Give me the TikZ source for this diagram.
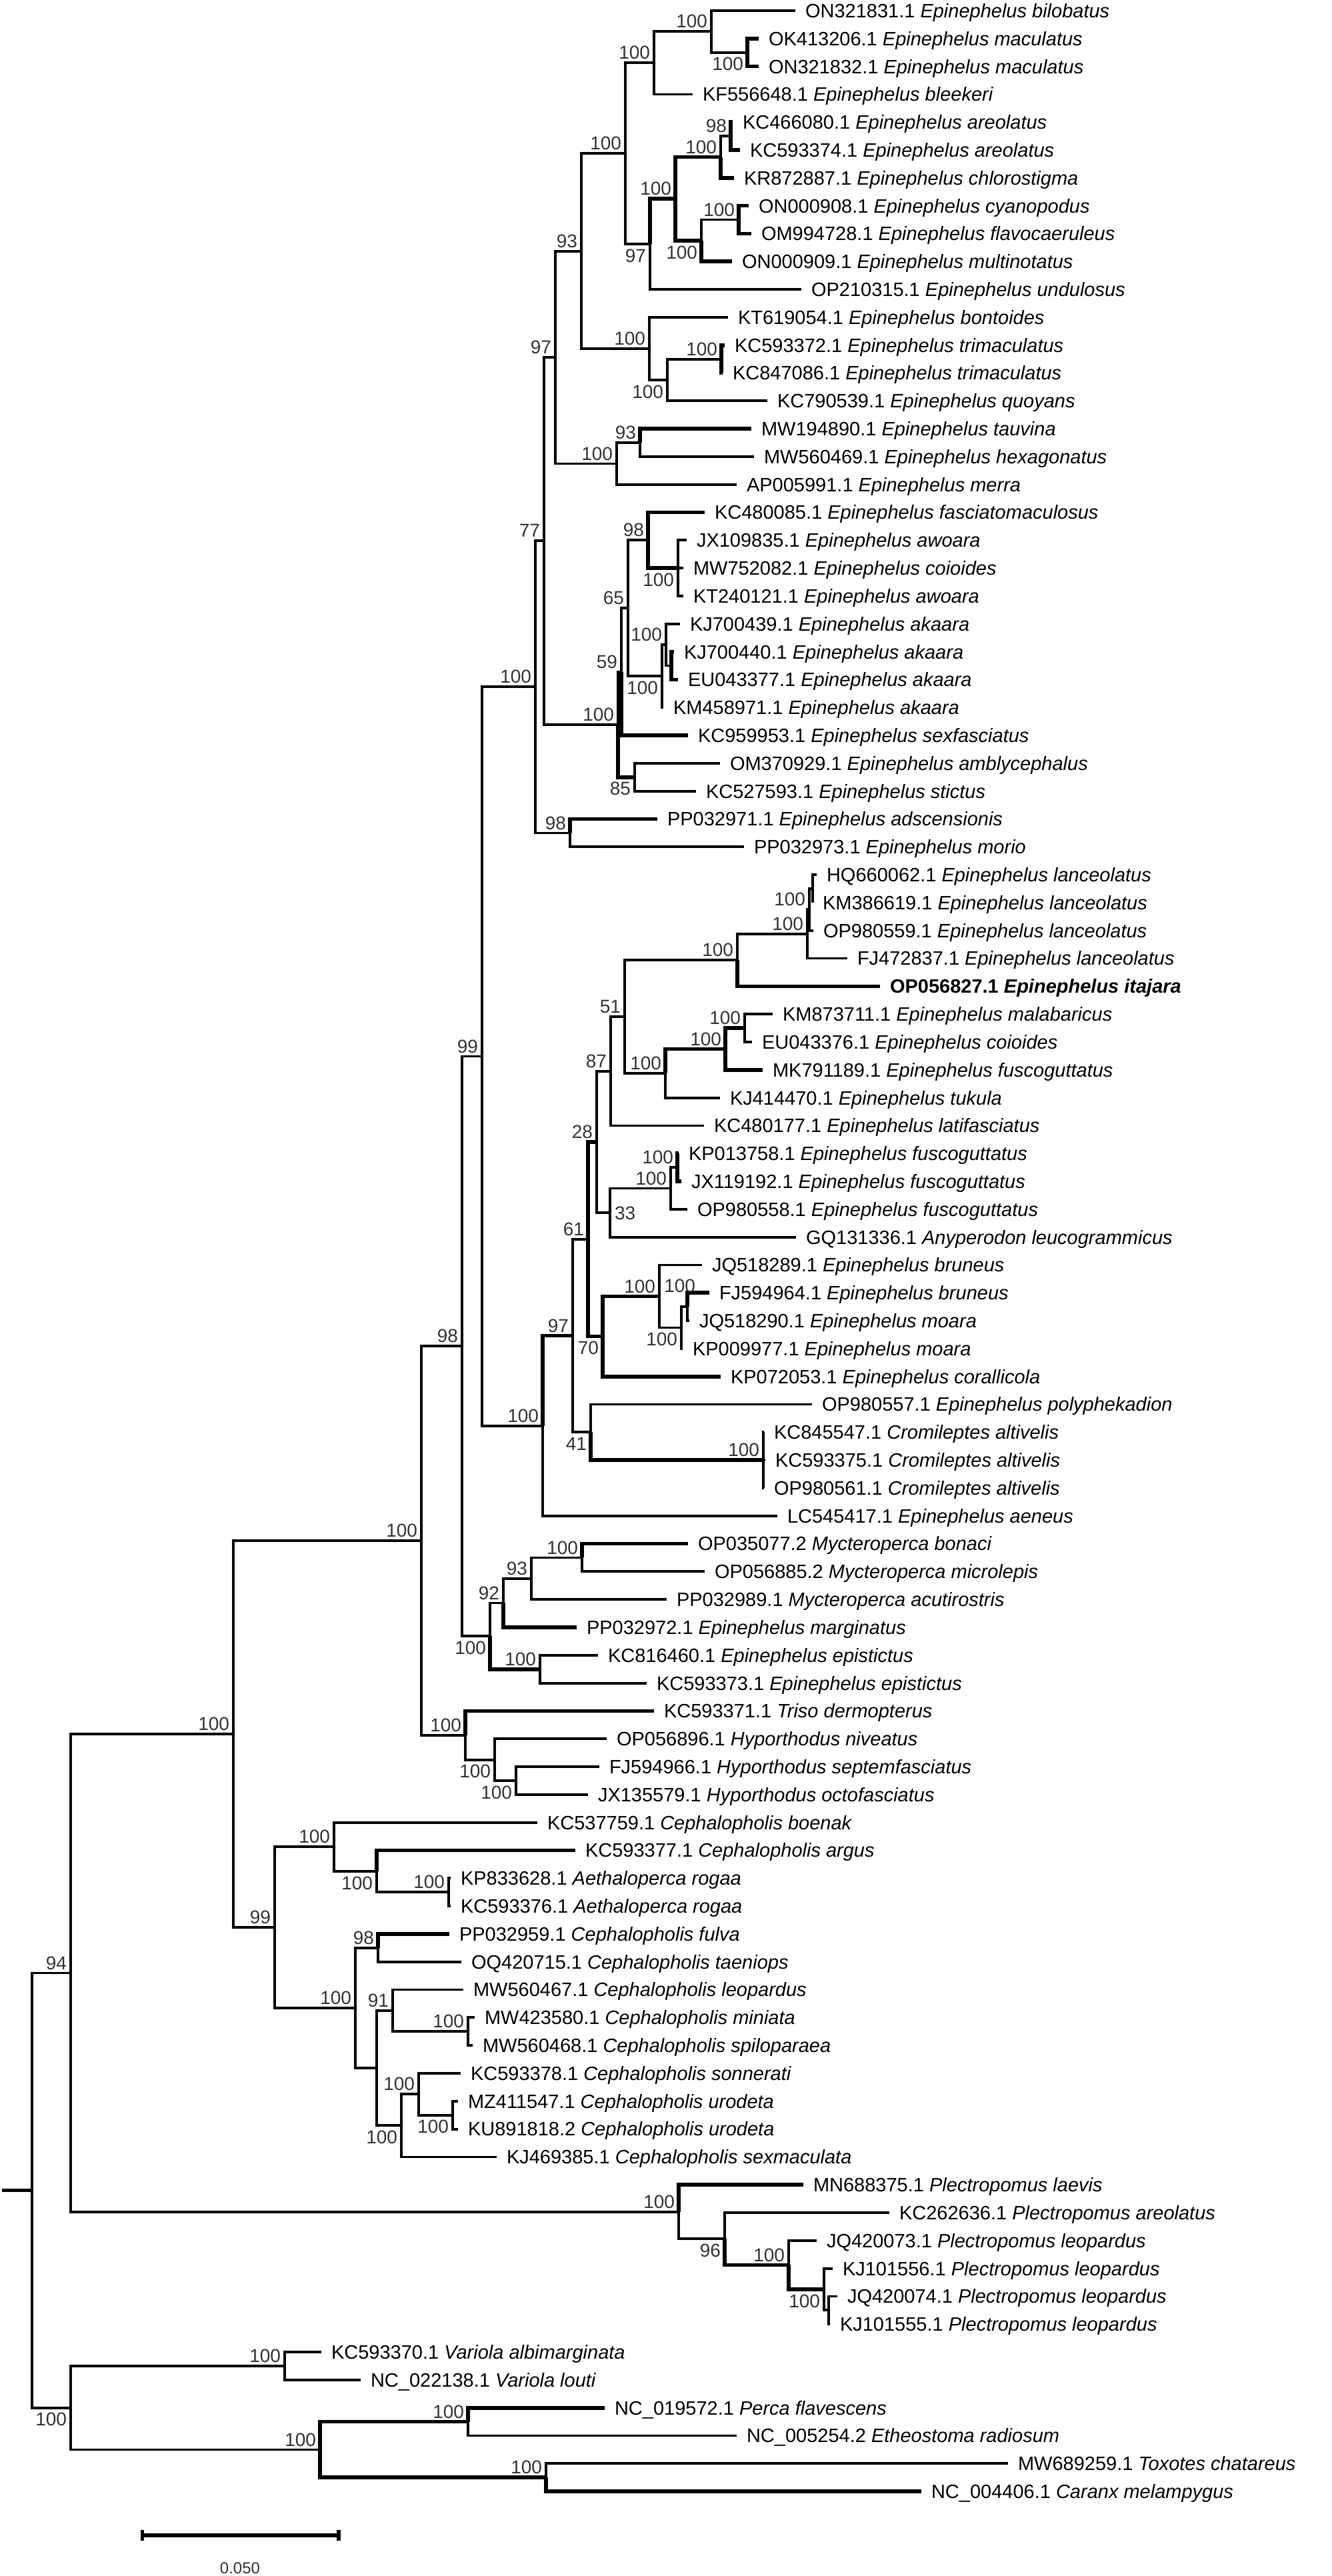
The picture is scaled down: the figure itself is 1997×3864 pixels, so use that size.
\documentclass[tikz,border=0pt]{standalone}
\usepackage{fontspec}
\setmainfont{Liberation Sans}
\usetikzlibrary{calc}

\tikzset{
  branch/.style={line width=1.9pt},
  fat/.style={line width=2.8pt},
  leaf/.style={anchor=west, inner xsep=7.5pt, inner ysep=0pt, outer sep=0pt,
    text height=10.4pt, text depth=0pt, font=\fontsize{14.5}{16}\selectfont},
  bsa/.style={anchor=south east, inner sep=0pt, outer sep=0pt, xshift=-3pt, yshift=2.7pt,
    text height=10pt, text depth=0pt, font=\fontsize{14}{16}\selectfont, text=black!80},
  bsb/.style={anchor=north east, inner sep=0pt, outer sep=0pt, xshift=-3pt, yshift=-3.6pt,
    text height=10pt, text depth=0pt, font=\fontsize{14}{16}\selectfont, text=black!80},
  bsr/.style={anchor=west, inner sep=0pt, outer sep=0pt, xshift=3.5pt,
    text height=10pt, text depth=0pt, font=\fontsize{14}{16}\selectfont, text=black!80},
}

% rows of the tips, in px from the top
\newcommand{\row}[1]{16+41.81*(#1-1)}
% tip: row, x of the branch end, label
\newcommand{\tip}[3]{\node[leaf] (l#1) at (#2,{\row{#1}}) {#3};}
% inner node: name, x, upper child, lower child
\newcommand{\clade}[4]{%
  \coordinate (#1m) at ($(#3)!.5!(#4)$);
  \coordinate (#1) at (#2,0 |- #1m);
  \draw[branch] (#3) -| (#1) |- (#4);}
\newcommand{\bs}[3]{\node[#1] at (#2) {#3};}

\begin{document}
\begin{tikzpicture}[x=0.5pt,y=-0.5pt]
\useasboundingbox[fill=white] (0,0) rectangle (1997,3864);

% tips
\tip{1}{1193}{ON321831.1 \textit{Epinephelus bilobatus}}
\tip{2}{1138}{OK413206.1 \textit{Epinephelus maculatus}}
\tip{3}{1138}{ON321832.1 \textit{Epinephelus maculatus}}
\tip{4}{1039}{KF556648.1 \textit{Epinephelus bleekeri}}
\tip{5}{1099}{KC466080.1 \textit{Epinephelus areolatus}}
\tip{6}{1110}{KC593374.1 \textit{Epinephelus areolatus}}
\tip{7}{1101}{KR872887.1 \textit{Epinephelus chlorostigma}}
\tip{8}{1123}{ON000908.1 \textit{Epinephelus cyanopodus}}
\tip{9}{1127}{OM994728.1 \textit{Epinephelus flavocaeruleus}}
\tip{10}{1098}{ON000909.1 \textit{Epinephelus multinotatus}}
\tip{11}{1202}{OP210315.1 \textit{Epinephelus undulosus}}
\tip{12}{1092}{KT619054.1 \textit{Epinephelus bontoides}}
\tip{13}{1087}{KC593372.1 \textit{Epinephelus trimaculatus}}
\tip{14}{1084}{KC847086.1 \textit{Epinephelus trimaculatus}}
\tip{15}{1151}{KC790539.1 \textit{Epinephelus quoyans}}
\tip{16}{1127}{MW194890.1 \textit{Epinephelus tauvina}}
\tip{17}{1131}{MW560469.1 \textit{Epinephelus hexagonatus}}
\tip{18}{1105}{AP005991.1 \textit{Epinephelus merra}}
\tip{19}{1057}{KC480085.1 \textit{Epinephelus fasciatomaculosus}}
\tip{20}{1030}{JX109835.1 \textit{Epinephelus awoara}}
\tip{21}{1025}{MW752082.1 \textit{Epinephelus coioides}}
\tip{22}{1025}{KT240121.1 \textit{Epinephelus awoara}}
\tip{23}{1020}{KJ700439.1 \textit{Epinephelus akaara}}
\tip{24}{1011}{KJ700440.1 \textit{Epinephelus akaara}}
\tip{25}{1017}{EU043377.1 \textit{Epinephelus akaara}}
\tip{26}{995}{KM458971.1 \textit{Epinephelus akaara}}
\tip{27}{1032}{KC959953.1 \textit{Epinephelus sexfasciatus}}
\tip{28}{1080}{OM370929.1 \textit{Epinephelus amblycephalus}}
\tip{29}{1044}{KC527593.1 \textit{Epinephelus stictus}}
\tip{30}{986}{PP032971.1 \textit{Epinephelus adscensionis}}
\tip{31}{1116}{PP032973.1 \textit{Epinephelus morio}}
\tip{32}{1225}{HQ660062.1 \textit{Epinephelus lanceolatus}}
\tip{33}{1219}{KM386619.1 \textit{Epinephelus lanceolatus}}
\tip{34}{1220}{OP980559.1 \textit{Epinephelus lanceolatus}}
\tip{35}{1271}{FJ472837.1 \textit{Epinephelus lanceolatus}}
\tip{36}{1320}{\bfseries OP056827.1 \textit{Epinephelus itajara}}
\tip{37}{1159}{KM873711.1 \textit{Epinephelus malabaricus}}
\tip{38}{1128}{EU043376.1 \textit{Epinephelus coioides}}
\tip{39}{1144}{MK791189.1 \textit{Epinephelus fuscoguttatus}}
\tip{40}{1080}{KJ414470.1 \textit{Epinephelus tukula}}
\tip{41}{1056}{KC480177.1 \textit{Epinephelus latifasciatus}}
\tip{42}{1018}{KP013758.1 \textit{Epinephelus fuscoguttatus}}
\tip{43}{1022}{JX119192.1 \textit{Epinephelus fuscoguttatus}}
\tip{44}{1031}{OP980558.1 \textit{Epinephelus fuscoguttatus}}
\tip{45}{1194}{GQ131336.1 \textit{Anyperodon leucogrammicus}}
\tip{46}{1053}{JQ518289.1 \textit{Epinephelus bruneus}}
\tip{47}{1064}{FJ594964.1 \textit{Epinephelus bruneus}}
\tip{48}{1034}{JQ518290.1 \textit{Epinephelus moara}}
\tip{49}{1024}{KP009977.1 \textit{Epinephelus moara}}
\tip{50}{1081}{KP072053.1 \textit{Epinephelus corallicola}}
\tip{51}{1218}{OP980557.1 \textit{Epinephelus polyphekadion}}
\tip{52}{1146}{KC845547.1 \textit{Cromileptes altivelis}}
\tip{53}{1148}{KC593375.1 \textit{Cromileptes altivelis}}
\tip{54}{1146}{OP980561.1 \textit{Cromileptes altivelis}}
\tip{55}{1166}{LC545417.1 \textit{Epinephelus aeneus}}
\tip{56}{1032}{OP035077.2 \textit{Mycteroperca bonaci}}
\tip{57}{1057}{OP056885.2 \textit{Mycteroperca microlepis}}
\tip{58}{1000}{PP032989.1 \textit{Mycteroperca acutirostris}}
\tip{59}{865}{PP032972.1 \textit{Epinephelus marginatus}}
\tip{60}{897}{KC816460.1 \textit{Epinephelus epistictus}}
\tip{61}{970}{KC593373.1 \textit{Epinephelus epistictus}}
\tip{62}{981}{KC593371.1 \textit{Triso dermopterus}}
\tip{63}{910}{OP056896.1 \textit{Hyporthodus niveatus}}
\tip{64}{899}{FJ594966.1 \textit{Hyporthodus septemfasciatus}}
\tip{65}{882}{JX135579.1 \textit{Hyporthodus octofasciatus}}
\tip{66}{806}{KC537759.1 \textit{Cephalopholis boenak}}
\tip{67}{863}{KC593377.1 \textit{Cephalopholis argus}}
\tip{68}{676}{KP833628.1 \textit{Aethaloperca rogaa}}
\tip{69}{676}{KC593376.1 \textit{Aethaloperca rogaa}}
\tip{70}{674}{PP032959.1 \textit{Cephalopholis fulva}}
\tip{71}{692}{OQ420715.1 \textit{Cephalopholis taeniops}}
\tip{72}{695}{MW560467.1 \textit{Cephalopholis leopardus}}
\tip{73}{712}{MW423580.1 \textit{Cephalopholis miniata}}
\tip{74}{709}{MW560468.1 \textit{Cephalopholis spiloparaea}}
\tip{75}{691}{KC593378.1 \textit{Cephalopholis sonnerati}}
\tip{76}{687}{MZ411547.1 \textit{Cephalopholis urodeta}}
\tip{77}{687}{KU891818.2 \textit{Cephalopholis urodeta}}
\tip{78}{745}{KJ469385.1 \textit{Cephalopholis sexmaculata}}
\tip{79}{1205}{MN688375.1 \textit{Plectropomus laevis}}
\tip{80}{1334}{KC262636.1 \textit{Plectropomus areolatus}}
\tip{81}{1225}{JQ420073.1 \textit{Plectropomus leopardus}}
\tip{82}{1249}{KJ101556.1 \textit{Plectropomus leopardus}}
\tip{83}{1256}{JQ420074.1 \textit{Plectropomus leopardus}}
\tip{84}{1245}{KJ101555.1 \textit{Plectropomus leopardus}}
\tip{85}{482}{KC593370.1 \textit{Variola albimarginata}}
\tip{86}{541}{NC\_022138.1 \textit{Variola louti}}
\tip{87}{907}{NC\_019572.1 \textit{Perca flavescens}}
\tip{88}{1105}{NC\_005254.2 \textit{Etheostoma radiosum}}
\tip{89}{1512}{MW689259.1 \textit{Toxotes chatareus}}
\tip{90}{1382}{NC\_004406.1 \textit{Caranx melampygus}}

% Epinephelus, upper part
\clade{mac}{1121}{l2}{l3}
\clade{A1}{1067}{l1}{mac}
\clade{A2}{981}{A1}{l4}
\clade{areo}{1096}{l5}{l6}
\clade{B1a}{1081}{areo}{l7}
\clade{cyan}{1108}{l8}{l9}
\clade{B1b}{1052}{cyan}{l10}
\clade{B1}{1013}{B1a}{B1b}
\clade{B}{975}{B1}{l11}
\clade{A3}{938}{A2}{B}
\clade{trim}{1082}{l13}{l14}
\clade{D1}{1001}{trim}{l15}
\clade{D}{974}{l12}{D1}
\clade{C}{872}{A3}{D}
\clade{F1}{960}{l16}{l17}
\clade{F}{925}{F1}{l18}
\clade{E}{833}{C}{F}
\clade{I1}{1017}{l20}{l22}
\draw[branch] (l21) -| (I1);
\clade{I}{972}{l19}{I1}
\clade{L2}{1007}{l24}{l25}
\clade{L1}{999}{l23}{L2}
\clade{L}{993}{L1}{l26}
\clade{n65}{942}{I}{L}
\clade{n59}{932}{n65}{l27}
\clade{n85}{952}{l28}{l29}
\clade{K}{927}{n59}{n85}
\clade{G}{816}{E}{K}
\clade{J}{855}{l30}{l31}
\clade{H}{803}{G}{J}

% lanceolatus down to Cromileptes
\clade{AF}{1219}{l32}{l33}
\clade{AE}{1214}{AF}{l34}
\clade{AD}{1211}{AE}{l35}
\clade{AB}{1106}{AD}{l36}
\clade{AH}{1117}{l37}{l38}
\clade{AG}{1088}{AH}{l39}
\clade{AC}{998}{AG}{l40}
\clade{AA}{937}{AB}{AC}
\clade{Z}{916}{AA}{l41}
\clade{AK}{1016}{l42}{l43}
\clade{AJ}{1006}{AK}{l44}
\clade{AI}{915}{AJ}{l45}
\clade{W}{895}{Z}{AI}
\clade{AN}{1031}{l47}{l48}
\clade{AM}{1022}{AN}{l49}
\clade{AL}{989}{l46}{AM}
\clade{Y}{904}{AL}{l50}
\clade{U}{882}{W}{Y}
\clade{AO}{1145}{l52}{l54}
\draw[branch] (l53) -| (AO);
\clade{V}{886}{l51}{AO}
\clade{T}{859}{U}{V}
\clade{N}{814}{T}{l55}
\clade{M}{723}{H}{N}

% Mycteroperca, Triso, Hyporthodus
\clade{AS}{873}{l56}{l57}
\clade{AR}{797}{AS}{l58}
\clade{AP}{755}{AR}{l59}
\clade{AQ}{810}{l60}{l61}
\clade{P}{735}{AP}{AQ}
\clade{O}{693}{M}{P}
\clade{AU}{774}{l64}{l65}
\clade{AT}{742}{l63}{AU}
\clade{Q}{698}{l62}{AT}
\clade{R}{632}{O}{Q}

% Cephalopholis
\clade{AY}{673}{l68}{l69}
\clade{AX}{565}{l67}{AY}
\clade{AV}{501}{l66}{AX}
\clade{AZ}{567}{l70}{l71}
\clade{BD}{702}{l73}{l74}
\clade{BB}{589}{l72}{BD}
\clade{BF}{679}{l76}{l77}
\clade{BE}{628}{l75}{BF}
\clade{BC}{602}{BE}{l78}
\clade{BA}{565}{BB}{BC}
\clade{AW}{533}{AZ}{BA}
\clade{S}{412}{AV}{AW}
\clade{X}{350}{R}{S}

% Plectropomus and outgroups
\clade{BK}{1243}{l83}{l84}
\clade{BJ}{1236}{l82}{BK}
\clade{BI}{1183}{l81}{BJ}
\clade{BH}{1087}{l80}{BI}
\clade{BG}{1018}{l79}{BH}
\clade{n94}{106}{X}{BG}
\clade{BM}{427}{l85}{l86}
\clade{BO}{702}{l87}{l88}
\clade{BP}{819}{l89}{l90}
\clade{BN}{480}{BO}{BP}
\clade{BL}{106}{BM}{BN}
\clade{root}{48}{n94}{BL}
\coordinate (base) at (3,0 |- root);
\draw[fat] (base) -- (root);

% heavier strokes
\draw[fat] (l2) -| (mac) |- (l3);
\draw[fat] (l5) -| (areo) |- (l6);
\draw[fat] (B1a) |- (l7);
\draw[fat] (B1a) -| (B1) |- (B1b);
\draw[fat] (l8) -| (cyan) |- (l9);
\draw[fat] (B1b) |- (l10);
\draw[fat] (B) |- (B1);
\draw[fat] (l13) -| (trim) |- (l14);
\draw[fat] (F1) |- (l16);
\draw[fat] (l19) -| (I) |- (I1);
\draw[fat] (l24) -| (L2) |- (l25);
\draw[fat] (n59) |- (l27);
\draw[fat] (K) |- (n85);
\draw[fat] (J) |- (l30);
\draw[fat] (AB) |- (l36);
\draw[fat] (AH) -| (AG) |- (l39);
\draw[fat] (AC) |- (AG);
\draw[fat] (W) -| (U) |- (Y);
\draw[fat] (l42) -| (AK) |- (l43);
\draw[fat] (Y) |- (AL);
\draw[fat] (AN) |- (l47);
\draw[fat] (Y) |- (l50);
\draw[fat] (V) |- (AO);
\draw[fat] (N) |- (T);
\draw[fat] (AS) |- (l56);
\draw[fat] (AP) |- (l59);
\draw[fat] (P) |- (AQ);
\draw[fat] (Q) |- (l62);
\draw[fat] (AZ) |- (l70);
\draw[fat] (AX) |- (l67);
\draw[fat] (BG) |- (l79);
\draw[fat] (BH) |- (BI);
\draw[fat] (BI) |- (BJ);
\draw[fat] (BO) -| (BN) |- (BP);
\draw[fat] (BO) |- (l87);
\draw[fat] (BP) |- (l90);

% bootstrap values
\bs{bsa}{A1}{100} \bs{bsb}{mac}{100} \bs{bsa}{A2}{100} \bs{bsa}{areo}{98}
\bs{bsa}{B1a}{100} \bs{bsa}{cyan}{100} \bs{bsb}{B1b}{100} \bs{bsa}{B1}{100}
\bs{bsb}{B}{97} \bs{bsa}{A3}{100} \bs{bsa}{trim}{100} \bs{bsb}{D1}{100}
\bs{bsa}{D}{100} \bs{bsa}{C}{93} \bs{bsa}{F1}{93} \bs{bsa}{F}{100}
\bs{bsa}{E}{97} \bs{bsb}{I1}{100} \bs{bsa}{I}{98} \bs{bsa}{L1}{100}
\bs{bsb}{L}{100} \bs{bsa}{n65}{65} \bs{bsa}{n59}{59} \bs{bsb}{n85}{85}
\bs{bsa}{K}{100} \bs{bsa}{G}{77} \bs{bsa}{J}{98} \bs{bsa}{H}{100}
\bs{bsa}{AE}{100} \bs{bsa}{AD}{100} \bs{bsa}{AB}{100} \bs{bsa}{AH}{100}
\bs{bsa}{AG}{100} \bs{bsa}{AC}{100} \bs{bsa}{AA}{51} \bs{bsa}{Z}{87}
\bs{bsa}{AK}{100} \bs{bsa}{AJ}{100} \bs{bsr}{AI}{33} \bs{bsa}{W}{28}
\bs{bsa,xshift=9pt,yshift=8pt}{AN}{100} \bs{bsb}{AM}{100} \bs{bsa}{AL}{100}
\bs{bsb}{Y}{70} \bs{bsa}{U}{61} \bs{bsa}{AO}{100} \bs{bsb}{V}{41}
\bs{bsa}{T}{97} \bs{bsa}{N}{100} \bs{bsa}{M}{99}
\bs{bsa}{AS}{100} \bs{bsa}{AR}{93} \bs{bsa}{AP}{92} \bs{bsa}{AQ}{100}
\bs{bsb}{P}{100} \bs{bsa}{O}{98} \bs{bsb}{AU}{100} \bs{bsb}{AT}{100}
\bs{bsa}{Q}{100} \bs{bsa}{R}{100}
\bs{bsa}{AY}{100} \bs{bsb}{AX}{100} \bs{bsa}{AV}{100} \bs{bsa}{AZ}{98}
\bs{bsa}{BD}{100} \bs{bsa}{BB}{91} \bs{bsb}{BF}{100} \bs{bsa}{BE}{100}
\bs{bsb}{BC}{100} \bs{bsa}{AW}{100} \bs{bsa}{S}{99} \bs{bsa}{X}{100}
\bs{bsb}{BJ}{100} \bs{bsa}{BI}{100} \bs{bsb}{BH}{96} \bs{bsa}{BG}{100}
\bs{bsa}{n94}{94}
\bs{bsa}{BM}{100} \bs{bsa}{BO}{100} \bs{bsa}{BP}{100} \bs{bsa}{BN}{100}
\bs{bsb}{BL}{100}

% scale bar
\coordinate (sbA) at (213.5,3803);
\coordinate (sbB) at (508,3803);
\draw[fat] (sbA) -- (sbB);
\draw[fat] ($(sbA)+(0,-8)$) -- ($(sbA)+(0,8)$);
\draw[fat] ($(sbB)+(0,-8)$) -- ($(sbB)+(0,8)$);
\node[inner sep=0pt, font=\fontsize{12}{14}\selectfont, text=black!80] (sbl) at (360,3852) {0.050};
\end{tikzpicture}
\end{document}
